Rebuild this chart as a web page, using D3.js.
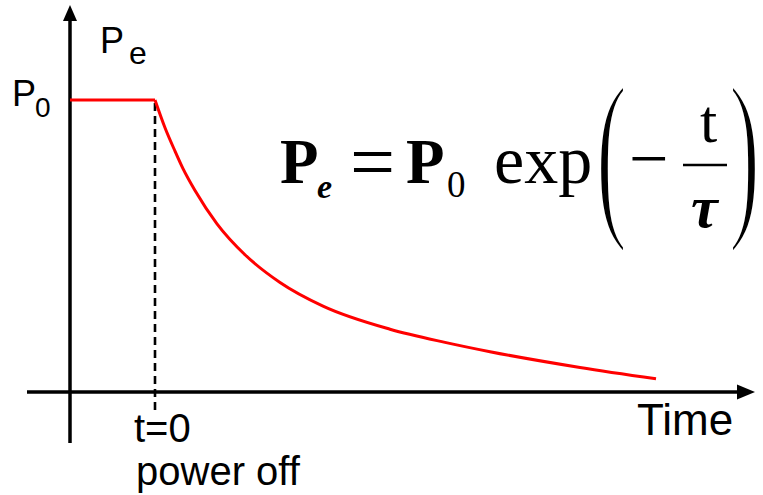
<!DOCTYPE html>
<html>
<head>
<meta charset="utf-8">
<script src="https://cdn.jsdelivr.net/npm/d3@7"></script>
<style>
  html, body { margin: 0; padding: 0; background: #fff; }
  svg { display: block; }
  .sans { font-family: "Liberation Sans", Arial, sans-serif; fill: #000; }
  .serif { font-family: "Liberation Serif", "Times New Roman", serif; fill: #000; }
</style>
</head>
<body>
<script>
// Emitted power before and after the power is switched off (t = 0), in units of P0
const holdTimes = [-0.85, 0];
const holdValues = [1, 1];
const decayTimes = [0, 0.10, 0.20, 0.28, 0.40, 0.62, 0.90, 1.25, 1.68, 2.35, 2.90, 3.35, 4.25, 5.01];
const decayValues = [1, 0.905, 0.825, 0.765, 0.69, 0.576, 0.47, 0.375, 0.294, 0.215, 0.17, 0.138, 0.084, 0.045];

// Axis extents (time in arbitrary units, power in units of P0)
const timeExtent = [-1.28, 6.0];
const powerExtent = [-0.175, 1.325];
const dashExtent = [-0.07, 1];

const W = 763, H = 495;
const svg = d3.select("body").append("svg").attr("width", W).attr("height", H);

const x = d3.scaleLinear().domain([-0.85, 6.0]).range([70, 755]);
const y = d3.scaleLinear().domain([0, 1]).range([392, 100]);

const axisW = 3.5;

// x axis with arrow
svg.append("line")
  .attr("x1", x(timeExtent[0])).attr("x2", x(timeExtent[1]) - 10)
  .attr("y1", y(0)).attr("y2", y(0))
  .attr("stroke", "#000").attr("stroke-width", axisW);
{
  const tx = x(timeExtent[1]), ty = y(0);
  svg.append("path")
    .attr("d", `M${tx},${ty} L${tx - 18},${ty - 7.5} L${tx - 18},${ty + 7.5} Z`)
    .attr("fill", "#000");
}

// y axis with arrow
svg.append("line")
  .attr("x1", x(-0.85)).attr("x2", x(-0.85))
  .attr("y1", y(powerExtent[0])).attr("y2", y(powerExtent[1]) + 10)
  .attr("stroke", "#000").attr("stroke-width", axisW);
{
  const tx = x(-0.85), ty = y(powerExtent[1]);
  svg.append("path")
    .attr("d", `M${tx},${ty} L${tx - 7},${ty + 16} L${tx + 7},${ty + 16} Z`)
    .attr("fill", "#000");
}

// dashed marker at power-off
svg.append("line")
  .attr("x1", x(0)).attr("x2", x(0))
  .attr("y1", y(dashExtent[1]) + 3).attr("y2", y(dashExtent[0]))
  .attr("stroke", "#000").attr("stroke-width", 2.6)
  .attr("stroke-dasharray", "8,5");

// power curve
const flat = d3.line().x((d, i) => x(holdTimes[i])).y((d, i) => y(holdValues[i]));
const decay = d3.line().curve(d3.curveMonotoneX)
  .x((d, i) => x(decayTimes[i])).y((d, i) => y(decayValues[i]));

svg.append("path")
  .attr("d", flat(holdTimes) + decay(decayTimes))
  .attr("fill", "none").attr("stroke", "#ff0000")
  .attr("stroke-width", 3).attr("stroke-linejoin", "miter");

// axis labels
const pe = svg.append("text").attr("class", "sans").attr("x", 100).attr("y", 53).attr("font-size", 36);
pe.append("tspan").text("P");
pe.append("tspan").attr("x", 129).attr("y", 64).attr("font-size", 32).text("e");

const p0 = svg.append("text").attr("class", "sans").attr("x", 12).attr("y", 106).attr("font-size", 36);
p0.append("tspan").text("P");
p0.append("tspan").attr("x", 35).attr("y", 117).attr("font-size", 28).text("0");

svg.append("text").attr("class", "sans").attr("x", 134).attr("y", 442).attr("font-size", 40).text("t=0");
svg.append("text").attr("class", "sans").attr("x", 136).attr("y", 485).attr("font-size", 40).text("power off");
svg.append("text").attr("class", "sans").attr("x", 637).attr("y", 435).attr("font-size", 44).text("Time");

// formula
const eq = svg.append("g").attr("class", "serif");
eq.append("text").attr("x", 280).attr("y", 183).attr("font-size", 63).attr("font-weight", "bold").text("P");
eq.append("text").attr("x", 317).attr("y", 198).attr("font-size", 34).attr("font-weight", "bold").attr("font-style", "italic").text("e");
eq.append("text").attr("x", 350).attr("y", 189).attr("font-size", 80).text("=");
eq.append("text").attr("x", 406).attr("y", 183).attr("font-size", 63).attr("font-weight", "bold").text("P");
eq.append("text").attr("x", 447).attr("y", 197).attr("font-size", 37).text("0");
eq.append("text").attr("x", 494).attr("y", 183).attr("font-size", 68).text("exp");
eq.append("text").attr("transform", "translate(596,214) scale(1.5,3)").attr("font-size", 62)
  .attr("stroke", "#fff").attr("stroke-width", 1.4).text("(");
eq.append("text").attr("transform", "translate(729,214) scale(1.5,3)").attr("font-size", 62)
  .attr("stroke", "#fff").attr("stroke-width", 1.4).text(")");
eq.append("text").attr("x", 629).attr("y", 182).attr("font-size", 70).text("\u2212");
eq.append("line").attr("x1", 683).attr("x2", 727).attr("y1", 165).attr("y2", 165)
  .attr("stroke", "#000").attr("stroke-width", 2.5);
eq.append("text").attr("x", 700).attr("y", 142).attr("font-size", 62).text("t");
eq.append("text").attr("x", 691).attr("y", 227).attr("font-size", 60).attr("font-weight", "bold").attr("font-style", "italic").text("\u03C4");
</script>
</body>
</html>
